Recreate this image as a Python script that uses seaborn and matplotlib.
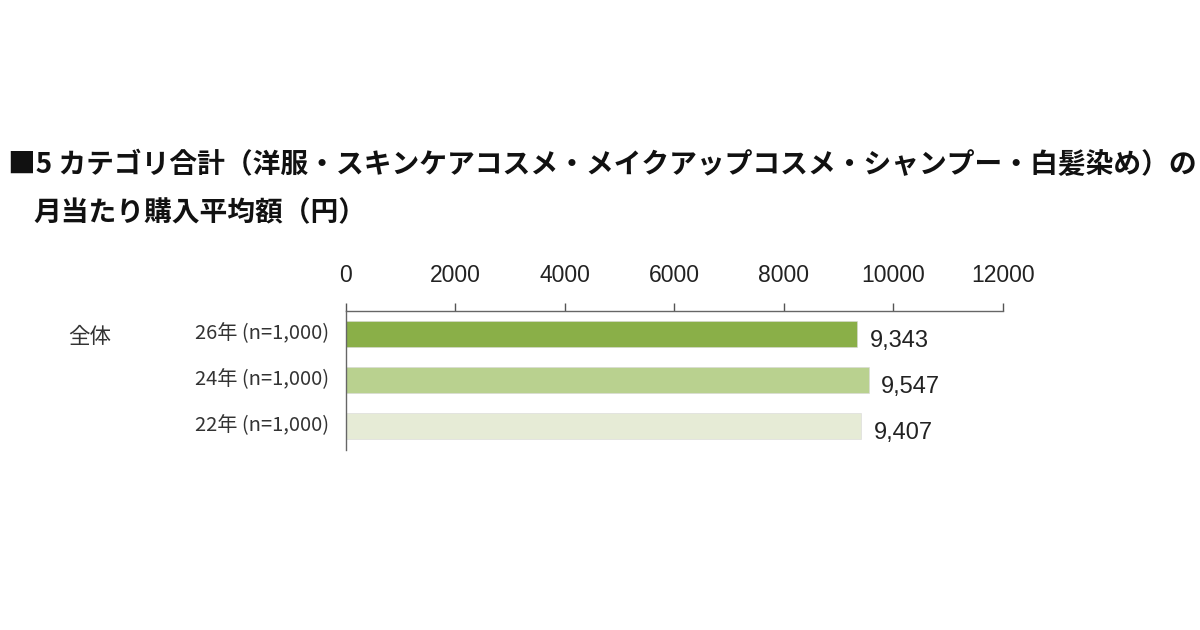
import matplotlib
matplotlib.use("Agg")
import matplotlib.pyplot as plt
import pandas as pd
import seaborn as sns

# data
group = "全体"
years = ["26年 (n=1,000)", "24年 (n=1,000)", "22年 (n=1,000)"]
values = [9343, 9547, 9407]
bar_colors = ["#8AAF48", "#B9D18F", "#E6EBD6"]
x_ticks = [0, 2000, 4000, 6000, 8000, 10000, 12000]

sns.set_theme(style="white")
plt.rcParams["font.family"] = ["Noto Sans CJK JP", "DejaVu Sans"]
num_font = ["Liberation Sans", "DejaVu Sans"]

df = pd.DataFrame({"year": years, "value": values})

fig = plt.figure(figsize=(12, 6.3), dpi=100)
ax = fig.add_axes([0.2883, 0.2857, 0.5475, 0.2206])

sns.barplot(
    data=df, x="value", y="year", hue="year", palette=bar_colors,
    orient="h", width=0.58, legend=False, ax=ax, saturation=1,
    edgecolor="#d8d8d8", linewidth=0.4,
)

ax.set_xlim(0, 12000)
ax.set_ylim(2.52, -0.5)
ax.set_xticks(x_ticks)
ax.set_xticklabels([str(t) for t in x_ticks], family=num_font, fontsize=16.5)
ax.xaxis.tick_top()
ax.tick_params(axis="x", top=True, bottom=False, length=6, width=1,
               color="#555555", pad=11, labelcolor="#222222")
ax.tick_params(axis="y", left=False, labelleft=False)
ax.set_xlabel("")
ax.set_ylabel("")

for side in ["right", "bottom"]:
    ax.spines[side].set_visible(False)
for side in ["top", "left"]:
    ax.spines[side].set_color("#666666")
    ax.spines[side].set_linewidth(1)

# value labels and category labels
for i, (lab, v) in enumerate(zip(years, values)):
    ax.annotate(f"{v:,}", xy=(v, i), xytext=(9, -5), textcoords="offset points",
                va="center", ha="left", fontsize=17, family=num_font,
                color="#222222")
    ax.annotate(lab, xy=(0, i), xycoords=("axes fraction", "data"),
                xytext=(-12, 0), textcoords="offset points",
                va="center", ha="right", fontsize=14.5, color="#333333")

ax.annotate(group, xy=(0, 0), xycoords=("figure fraction", "data"),
            xytext=(68 * 0.72, -2), textcoords="offset points",
            va="center", ha="left", fontsize=15.5, color="#333333")

fig.text(8 / 1200, 1 - 165 / 630,
         "■5 カテゴリ合計（洋服・スキンケアコスメ・メイクアップコスメ・シャンプー・白髪染め）の",
         fontsize=20, fontweight="bold", va="center", ha="left", color="#111111")
fig.text(33 / 1200, 1 - 213 / 630, "月当たり購入平均額（円）",
         fontsize=20, fontweight="bold", va="center", ha="left", color="#111111")

fig.savefig("out.png", dpi=100, facecolor="white")
